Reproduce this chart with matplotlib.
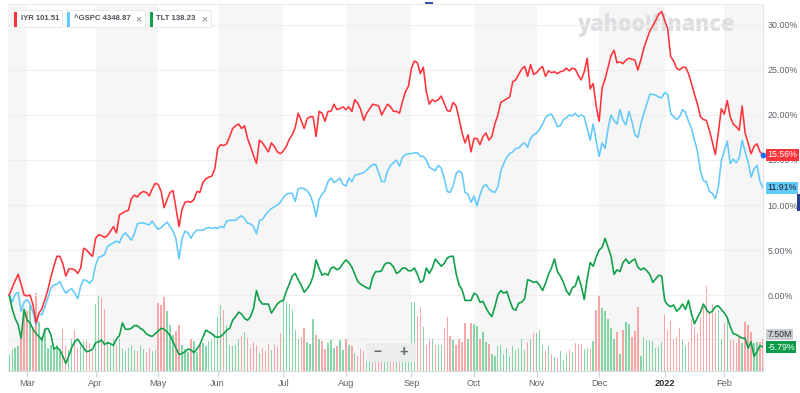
import numpy as np
import pandas as pd
import matplotlib
matplotlib.use('Agg')
import matplotlib.pyplot as plt
import matplotlib.transforms as mtransforms
from matplotlib.patches import FancyBboxPatch, Rectangle

plt.rcParams['font.family'] = ['Liberation Sans', 'DejaVu Sans']

# ---------------- data ----------------
holidays = ['2021-04-02', '2021-05-31', '2021-07-05', '2021-09-06',
            '2021-11-25', '2021-12-24', '2022-01-17']
dates = pd.bdate_range('2021-02-19', '2022-02-18')
dates = dates[~dates.isin(pd.to_datetime(holidays))]

iyr = [0.0, 0.8, 1.6, 2.3, 1.2, 0.0, -0.1, 0.0, -1.1, -3.1,
       -2.0, -1.5, -0.5, 0.6, 2.0, 3.2, 4.3, 4.3, 3.5, 2.1,
       2.9, 2.9, 2.8, 2.4, 3.0, 5.2, 5.0, 4.6, 4.3, 6.3,
       6.7, 6.6, 6.4, 6.6, 7.1, 7.6, 6.9, 8.9, 9.1, 9.3,
       9.4, 10.7, 11.1, 10.9, 11.3, 11.5, 11.4, 11.0, 11.8, 12.4,
       12.3, 11.5, 9.7, 10.6, 11.4, 11.6, 9.6, 7.6, 9.5, 10.3,
       10.4, 10.3, 10.6, 11.5, 11.4, 12.5, 12.9, 13.1, 13.2, 14.0,
       16.3, 16.7, 16.6, 16.8, 17.6, 18.5, 18.8, 19.0, 18.5, 18.8,
       17.4, 16.5, 15.5, 14.6, 17.2, 16.9, 16.4, 15.9, 16.9, 16.5,
       15.9, 15.7, 16.0, 16.5, 17.3, 17.8, 18.6, 20.2, 19.4, 18.5,
       19.6, 19.8, 19.8, 17.6, 20.4, 20.2, 19.3, 20.4, 20.4, 21.2,
       20.6, 20.7, 20.9, 20.6, 20.9, 20.4, 21.7, 21.3, 20.6, 19.4,
       20.2, 20.7, 21.2, 21.1, 21.0, 20.0, 20.6, 21.2, 20.9, 20.4,
       20.4, 20.2, 21.5, 22.6, 23.2, 25.2, 26.0, 25.8, 24.6, 25.3,
       22.6, 21.2, 21.7, 21.5, 21.7, 22.1, 21.3, 20.5, 20.4, 21.4,
       21.0, 19.6, 18.0, 16.9, 17.8, 15.9, 17.4, 17.4, 16.7, 17.6,
       18.0, 17.2, 17.6, 19.0, 20.0, 21.4, 21.6, 21.8, 22.0, 23.7,
       23.9, 24.5, 25.1, 25.4, 24.3, 25.6, 24.5, 24.7, 25.1, 25.4,
       24.3, 24.9, 24.7, 24.8, 24.6, 24.8, 24.9, 25.2, 24.9, 25.2,
       25.1, 24.4, 23.9, 24.8, 26.3, 22.9, 23.5, 21.0, 19.3, 23.0,
       24.0, 25.3, 26.6, 27.2, 25.8, 25.9, 25.7, 26.1, 26.3, 26.2,
       26.1, 25.0, 26.1, 27.4, 28.4, 29.3, 29.9, 30.5, 31.2, 31.5,
       30.5, 29.6, 26.5, 26.0, 25.2, 25.0, 25.3, 25.3, 24.6, 23.5,
       22.3, 21.2, 19.8, 19.5, 19.4, 18.3, 17.0, 15.6, 18.0, 20.7,
       20.1, 21.6, 19.8, 19.0, 18.7, 18.3, 21.0, 18.0, 16.9, 15.7,
       16.5, 16.8, 15.9, 15.56]

gspc = [0.0, -0.8, 0.1, 0.3, -1.8, -0.8, -0.5, -1.0, -1.9, -3.3,
        -2.1, -2.2, -1.3, -0.3, 0.8, 1.1, 1.2, 1.5, 0.8, 0.2,
        0.5, 0.7, 0.2, -0.4, 1.0, 1.7, 1.6, 1.3, 1.7, 3.3,
        4.2, 4.3, 4.5, 5.4, 5.6, 5.8, 6.0, 5.8, 6.6, 6.9,
        6.5, 6.1, 6.8, 7.9, 8.0, 8.0, 7.9, 7.8, 8.2, 7.7,
        7.3, 7.5, 7.8, 8.1, 7.6, 7.1, 6.2, 4.0, 6.2, 7.1,
        6.9, 6.3, 6.9, 7.2, 7.2, 7.2, 7.4, 7.5, 7.4, 7.5,
        7.4, 7.6, 7.5, 8.2, 8.3, 8.3, 8.3, 8.6, 8.8, 8.5,
        8.0, 7.9, 7.6, 6.8, 8.3, 8.4, 8.9, 9.3, 9.6, 9.8,
        10.0, 10.3, 10.8, 11.2, 11.3, 11.3, 10.4, 11.8, 11.9, 11.8,
        11.6, 11.1, 10.2, 8.7, 10.6, 11.2, 11.6, 12.6, 13.0, 12.5,
        12.7, 13.0, 12.3, 12.1, 13.0, 12.6, 13.3, 13.4, 13.5, 13.6,
        13.9, 14.2, 14.5, 14.5, 13.6, 12.6, 12.6, 13.8, 14.4, 14.7,
        15.0, 14.3, 15.3, 15.6, 15.7, 15.7, 15.8, 15.8, 15.4, 15.4,
        15.0, 14.2, 14.0, 13.8, 14.4, 14.1, 13.0, 11.5, 11.4, 12.1,
        13.5, 13.8, 13.5, 11.4, 11.2, 10.3, 11.0, 9.9, 11.1, 12.0,
        12.3, 11.8, 11.5, 11.4, 12.0, 13.8, 14.6, 15.3, 15.7, 15.9,
        16.3, 16.3, 16.7, 16.9, 16.4, 17.4, 17.8, 18.0, 18.4, 19.0,
        19.7, 20.0, 20.1, 19.5, 18.7, 18.8, 19.5, 19.7, 20.0, 19.9,
        20.2, 19.8, 20.0, 19.8, 18.5, 17.2, 19.0, 17.2, 15.4, 16.9,
        16.3, 18.5, 20.0, 19.4, 19.0, 20.6, 19.4, 18.9, 20.4, 19.3,
        17.8, 17.5, 19.0, 20.2, 21.2, 22.3, 22.3, 22.2, 22.0, 21.9,
        22.5, 22.3, 20.2, 19.8, 19.5, 19.8, 20.6, 20.3, 19.3, 18.5,
        17.2, 16.0, 13.8, 12.7, 12.6, 11.5, 11.3, 10.7, 12.0, 14.9,
        16.0, 17.1, 14.6, 15.1, 14.7, 15.2, 17.2, 15.9, 14.8, 13.1,
        14.0, 14.4, 12.6, 11.91]

tlt = [0.0, -1.5, -2.6, -3.3, -4.8, -1.6, -2.8, -3.1, -3.8, -4.3,
       -4.6, -5.0, -3.8, -3.7, -4.4, -6.0, -5.8, -6.1, -6.8, -7.6,
       -6.8, -5.8, -5.2, -4.9, -5.4, -5.9, -6.3, -6.2, -6.0, -5.3,
       -5.2, -5.0, -5.5, -5.3, -5.4, -5.6, -4.9, -4.5, -3.1, -3.8,
       -3.8, -3.7, -3.4, -3.4, -3.7, -3.9, -4.3, -4.5, -4.6, -4.3,
       -4.0, -3.7, -3.8, -4.1, -4.5, -5.2, -5.9, -6.6, -6.5, -6.3,
       -6.0, -6.1, -6.4, -6.0, -5.5, -4.7, -3.9, -4.1, -4.3, -4.6,
       -4.7, -4.6, -4.3, -3.9, -3.7, -2.8, -2.4, -1.9, -2.1, -2.6,
       -2.8, -2.4, -1.5, 0.5, -0.6, -1.0, -1.0, -1.0, -2.0, -1.5,
       -1.0, -0.7, -0.6, 0.4, 1.2, 2.1, 2.4, 1.7, 1.1, 0.3,
       0.7, 1.2, 2.1, 3.9, 3.0, 2.2, 2.4, 2.2, 3.0, 3.1,
       2.8, 3.0, 3.5, 3.9, 3.6, 3.1, 2.3, 1.5, 1.2, 1.0,
       0.8, 0.7, 2.0, 2.6, 2.6, 2.7, 3.4, 3.6, 3.5, 3.1,
       2.4, 2.6, 3.0, 3.0, 2.7, 2.7, 3.0, 2.3, 1.4, 1.6,
       3.0, 2.4, 3.0, 4.0, 3.6, 3.2, 3.5, 4.1, 4.3, 4.3,
       2.4, 1.1, 0.6, -0.6, -0.6, -0.6, 0.2, 0.0, -0.8, -0.7,
       -1.4, -2.0, -2.4, -1.3, 0.0, 0.5, 0.2, 0.4, -0.6, -1.5,
       -1.7, -0.9, -0.8, -0.4, 1.7, 1.6, 1.4, 1.5, 1.1, 0.5,
       1.3, 2.3, 3.0, 4.0, 2.6, 2.1, 1.4, 0.5, 0.0, 0.8,
       1.0, 2.1, 1.0, -0.5, 1.8, 3.6, 3.2, 4.2, 5.0, 5.3,
       6.3, 5.3, 4.3, 2.3, 2.8, 2.6, 3.6, 4.0, 3.5, 3.8,
       4.0, 3.1, 2.8, 3.0, 2.7, 2.3, 1.4, 1.8, 2.2, 2.1,
       -0.6, -1.1, -1.3, -1.1, -1.8, -1.5, -1.0, -1.6, -0.6, -2.1,
       -3.2, -2.5, -1.9, -1.0, -1.6, -2.0, -1.8, -1.3, -1.2, -1.6,
       -2.0, -2.5, -3.5, -4.3, -4.4, -4.6, -4.8, -4.8, -5.9, -5.2,
       -6.8, -6.3, -5.6, -5.79]

# IYR volume, millions of shares
volume = [3.7, 4.9, 5.4, 5.8, 8.0, 14.5, 14.0, 15.5, 10.4, 18.3,
          11.5, 8.0, 9.5, 5.5, 6.0, 5.2, 6.0, 5.0, 9.8, 6.2,
          5.0, 7.5, 9.6, 5.5, 6.0, 7.0, 7.3, 6.5, 4.8, 15.8,
          17.6, 17.2, 14.6, 7.0, 6.5, 7.6, 6.0, 7.5, 5.2, 4.8,
          5.5, 6.2, 5.0, 4.6, 6.0, 5.2, 4.5, 5.5, 4.8, 5.0,
          16.0, 15.5, 17.4, 14.0, 10.8, 8.4, 9.3, 10.8, 6.0, 5.2,
          4.4, 7.6, 7.0, 4.5, 6.2, 6.6, 5.8, 7.0, 7.2, 8.6,
          12.7, 15.4, 14.3, 10.8, 6.0, 5.8, 6.0, 7.5, 8.3, 9.2,
          7.8, 5.4, 6.8, 6.2, 4.3, 5.5, 4.6, 6.4, 5.0, 6.0,
          5.6, 8.8, 16.6, 16.2, 15.8, 14.3, 9.6, 7.6, 8.0, 10.0,
          6.8, 6.4, 12.3, 8.4, 7.6, 7.0, 5.2, 6.5, 7.2, 5.5,
          5.8, 7.2, 5.0, 7.5, 6.2, 5.8, 4.2, 3.5, 5.2, 4.8,
          2.6, 4.5, 3.8, 3.0, 5.0, 4.4, 4.0, 3.2, 5.4, 2.9,
          4.2, 4.0, 6.5, 6.3, 5.2, 16.2, 16.2, 13.0, 14.9, 10.4,
          6.1, 7.6, 7.6, 6.1, 6.1, 6.1, 10.0, 12.6, 8.2, 7.3,
          6.1, 7.4, 6.8, 11.2, 7.6, 11.2, 10.9, 10.5, 7.6, 9.2,
          6.8, 6.4, 4.1, 3.4, 5.9, 6.1, 4.1, 5.5, 3.4, 5.9,
          4.9, 5.5, 7.6, 4.9, 6.8, 7.6, 8.8, 8.8, 9.6, 6.1,
          4.8, 5.9, 4.1, 3.2, 3.1, 4.8, 2.6, 4.1, 4.9, 4.5,
          6.6, 6.3, 6.3, 5.1, 5.5, 5.1, 7.1, 14.3, 17.6, 14.7,
          14.1, 12.1, 10.0, 7.4, 9.2, 4.0, 9.6, 11.5, 11.1, 7.9,
          9.4, 15.1, 3.4, 7.9, 7.3, 7.3, 7.1, 5.3, 5.7, 6.9,
          13.1, 9.6, 11.8, 7.6, 7.9, 10.0, 7.3, 5.9, 6.9, 11.9,
          10.4, 8.8, 12.6, 15.0, 19.9, 13.5, 15.7, 13.5, 14.3, 7.6,
          11.2, 12.7, 7.3, 7.3, 6.5, 8.0, 6.5, 11.5, 10.8, 9.2,
          6.5, 6.9, 6.9, 7.6]

legend_names = ['IYR', '^GSPC', 'TLT']
legend_prices = ['101.51', '4348.87', '138.23']
pct_ticks = [0, 5, 10, 15, 20, 25, 30]
vol_label_level = 7.5

# ---------------- styling ----------------
C_IYR = '#ff333a'
C_GSPC = '#62c9fb'
C_TLT = '#13a04c'
BAND = '#f6f6f6'
GRID = '#eeeeee'
TXT = '#5b636a'

x = np.arange(len(dates))
up = np.diff(np.array(iyr), prepend=iyr[0]) >= 0
bar_colors = np.where(up, '#5fc98a', '#fb8a8a')

W, H = 800, 393
fig = plt.figure(figsize=(W / 100, H / 100), dpi=100)
fig.patch.set_facecolor('white')
rect = [8 / W, 22 / H, 755 / W, 367 / H]
axv = fig.add_axes(rect, zorder=1)
ax = fig.add_axes(rect, zorder=3, sharex=axv)
ax.patch.set_visible(False)

xlo, xhi = -0.4, len(x) - 1.0
ax.set_xlim(xlo, xhi)
ax.set_ylim(-8.44, 32.33)
axv.set_ylim(0, 86)

# month bands
months = dates.to_period('M')
first = [i for i in range(1, len(dates)) if months[i] != months[i - 1]]
bounds = [xlo] + first + [xhi]
for k in range(len(bounds) - 1):
    if k % 2 == 0:
        axv.axvspan(bounds[k], bounds[k + 1], color=BAND, lw=0, zorder=0)

axv.axhline(vol_label_level, color=GRID, lw=0.8, zorder=0.5)
axv.bar(x, volume, width=0.45, color=bar_colors, alpha=0.75, linewidth=0, zorder=1)
for s in axv.spines.values():
    s.set_visible(False)
axv.tick_params(left=False, labelleft=False, bottom=False, labelbottom=False)

for v in pct_ticks:
    ax.axhline(v, color=GRID, lw=0.8, zorder=0.5)

ax.plot(x, gspc, color=C_GSPC, lw=1.15, zorder=2)
ax.plot(x, tlt, color=C_TLT, lw=1.2, zorder=2)
ax.plot(x, iyr, color=C_IYR, lw=1.15, zorder=3)

# axes
ax.yaxis.tick_right()
ax.set_yticks(pct_ticks)
ax.set_yticklabels([f'{v:.2f}%' for v in pct_ticks])
ax.tick_params(axis='y', length=0, pad=3, labelsize=6.4, labelcolor=TXT)
labels = ['2022' if dates[i].month == 1 else dates[i].strftime('%b') for i in first]
ax.set_xticks(first)
ax.set_xticklabels(labels)
ax.tick_params(axis='x', length=4, width=0.8, color='#cfd3d6', pad=2,
               labelsize=6.6, labelcolor=TXT)
for t in ax.get_xticklabels():
    if t.get_text() == '2022':
        t.set_fontweight('bold')
        t.set_color('#2a3036')
ax.spines['left'].set_visible(False)
ax.spines['right'].set_color('#e2e5e8')
ax.spines['top'].set_color('#e9ecee')
ax.spines['bottom'].set_color('#d9dcdf')
for s in ['right', 'top', 'bottom']:
    ax.spines[s].set_linewidth(0.8)

# end-value labels
tr = mtransforms.blended_transform_factory(ax.transAxes, ax.transData)
trv = mtransforms.blended_transform_factory(axv.transAxes, axv.transData)
lab_kw = dict(ha='left', va='center', fontsize=6.3, clip_on=False, zorder=20)
box = 'square,pad=0.14'
ax.text(1.006, iyr[-1], f'{iyr[-1]:.2f}%', transform=tr, color='white',
        bbox=dict(boxstyle=box, fc=C_IYR, ec='none'), **lab_kw)
ax.text(1.006, gspc[-1], f'{gspc[-1]:.2f}%', transform=tr, color='#1d2328',
        bbox=dict(boxstyle=box, fc=C_GSPC, ec='none'), **lab_kw)
axv.text(1.006, vol_label_level, f'{vol_label_level:.2f}M', transform=trv, color='#2a3036',
         bbox=dict(boxstyle=box, fc='#c9ccd0', ec='none'),
         **{**lab_kw, 'va': 'bottom'})
ax.text(1.006, tlt[-1], f'{tlt[-1]:.2f}%', transform=tr, color='white',
        bbox=dict(boxstyle=box, fc='#0b9a48', ec='none'), **lab_kw)
ax.plot([x[-1]], [iyr[-1]], 'o', ms=3.2, color='#1e6ff0', clip_on=False, zorder=21)

# helpers in pixel space (top-left origin)
def px(xp, yp):
    return xp / W, 1 - yp / H

# watermark
fig.text(*px(578, 31), 'yahoo!finance', fontsize=15.5, fontweight='heavy',
         family=['Open Sans', 'DejaVu Sans'], color='#dcdee2', ha='left',
         va='baseline', zorder=2)

# legend chips
chips = [(13.5, 62.5, False), (66, 145.5, True), (149, 211.5, True)]
chip_colors = [C_IYR, C_GSPC, C_TLT]
for (x0, x1, closable), name, price, c in zip(chips, legend_names, legend_prices, chip_colors):
    fx, fy = px(x0, 27.5)
    fig.patches.append(FancyBboxPatch((fx, fy), (x1 - x0) / W, 17 / H,
                                      boxstyle='round,pad=0,rounding_size=0.003',
                                      transform=fig.transFigure, fc='white',
                                      ec='#e4e6e8', lw=0.6, zorder=6))
    rx, ry = px(x0 + 1, 26.5)
    fig.patches.append(Rectangle((rx, ry), 2.6 / W, 15 / H, transform=fig.transFigure,
                                 fc=c, ec='none', zorder=7))
    fig.text(*px(x0 + 7.5, 19), f'{name} {price}', fontsize=5.6, fontweight='bold',
             color='#4a5259', ha='left', va='center', zorder=8)
    if closable:
        fig.text(*px(x1 - 7.5, 19.5), '×', fontsize=7.5, color='#7d868c',
                 ha='center', va='center', zorder=8)

# zoom buttons
bx, by = px(366, 362)
fig.patches.append(FancyBboxPatch((bx, by), 50 / W, 19 / H,
                                  boxstyle='round,pad=0,rounding_size=0.003',
                                  transform=fig.transFigure, fc='#eeeeee', ec='none',
                                  alpha=0.9, zorder=6))
fig.text(*px(377.5, 352), '\u2212', fontsize=10, fontweight='bold', color='#646b72',
         ha='center', va='center', zorder=7)
fig.text(*px(404, 352), '+', fontsize=10.5, fontweight='bold', color='#646b72',
         ha='center', va='center', zorder=7)

# small UI marks
fig.patches.append(Rectangle(px(425, 3.5), 8 / W, 1.6 / H, transform=fig.transFigure,
                             fc='#3d4fa8', ec='none', zorder=7))
fig.patches.append(Rectangle(px(797, 211), 3 / W, 17 / H, transform=fig.transFigure,
                             fc='#2b3e94', ec='none', zorder=7))

fig.savefig('out.png', dpi=100)
